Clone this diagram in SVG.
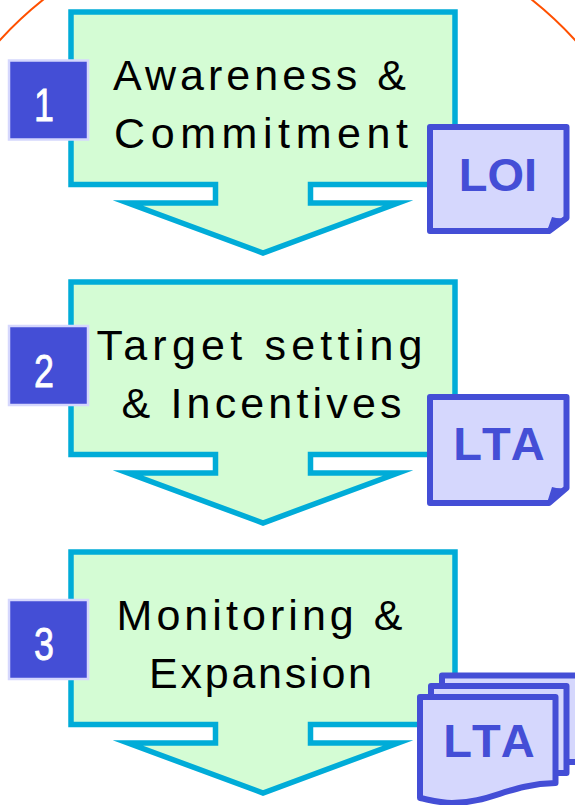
<svg xmlns="http://www.w3.org/2000/svg" width="575" height="805" viewBox="0 0 575 805">
<style>
.arrow{fill:#d4fcd4;stroke:#00acd8;stroke-width:5.5;stroke-miterlimit:12}
.badge{fill:#444ed6;stroke:#d5d7fd;stroke-width:2.5}
.num{font-family:"Liberation Sans",sans-serif;font-size:46px;fill:#fff;stroke:#fff;stroke-width:.8;text-anchor:middle}
.step{font-family:"Liberation Sans",sans-serif;font-size:43px;fill:#000}
.doc{fill:#d5d7fd;stroke:#444ed6;stroke-width:6;stroke-linejoin:round}
.fold{fill:#444ed6;stroke:none}
.dl{font-family:"Liberation Sans",sans-serif;font-size:47px;font-weight:bold;font-kerning:none;fill:#444ed6;text-anchor:middle}
.arc{fill:none;stroke:#ff5000;stroke-width:2}
</style>
<defs>
<path id="ar" d="M71 12H455V184.5H310.500V203H398L263 253L128 203H215.500V184.500H71Z"/>
</defs>
<g id="arcs"><path class="arc" d="M-1 41Q20 18 44 -1"/><path class="arc" d="M531 -1Q555 18 576 41"/></g>
<g id="step1">
<use href="#ar" class="arrow"/>
<text class="step" x="113" y="90" textLength="293">Awareness &amp;</text>
<text class="step" x="114" y="148" textLength="294">Commitment</text>
<rect class="badge" x="9" y="60.500" width="79" height="79"/>
<text class="num" x="44" y="121" transform="translate(9.700 0) scale(.78 1)">1</text>
<path class="doc" d="M430 127H566.500V218L549 231H430Z"/>
<path class="fold" d="M547 231L552 217Q558 219 566 218Z"/>
<text class="dl" x="498" y="190.500">LOI</text>
</g>
<g id="step2">
<use href="#ar" y="270" class="arrow"/>
<text class="step" x="96.500" y="360" textLength="326">Target setting</text>
<text class="step" x="121.500" y="418" textLength="280">&amp; Incentives</text>
<rect class="badge" x="9" y="326" width="79" height="79"/>
<text class="num" x="44" y="387" transform="translate(9.700 0) scale(.78 1)">2</text>
<path class="doc" d="M430 397H566.500V488L549 503H430Z"/>
<path class="fold" d="M547 503L552 487Q558 489 566 488Z"/>
<text class="dl" x="499" y="460">LTA</text>
</g>
<g id="step3">
<use href="#ar" y="540" class="arrow"/>
<text class="step" x="116.500" y="630" textLength="286">Monitoring &amp;</text>
<text class="step" x="149" y="688" textLength="223">Expansion</text>
<rect class="badge" x="9" y="600" width="79" height="79"/>
<text class="num" x="44" y="660" transform="translate(9.700 0) scale(.78 1)">3</text>
<path class="doc" d="M442 692V675.500H580V762H566"/>
<path class="doc" d="M431 702V686H566.500V773H552"/>
<path class="doc" d="M420 697H555.500V783C510 784 490 803 452 803C440 803 430 800 420 798Z"/>
<text class="dl" x="489" y="757">LTA</text>
</g>
</svg>
